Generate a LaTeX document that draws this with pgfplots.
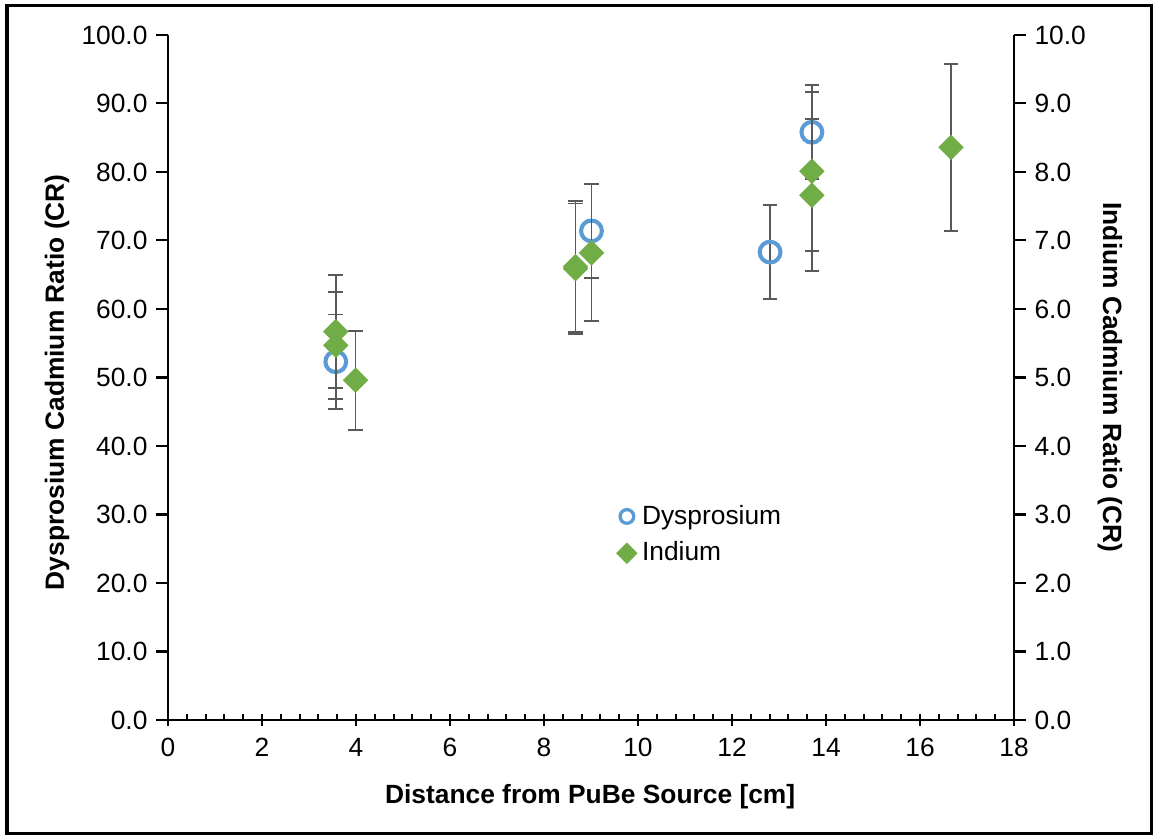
\documentclass[border=0pt]{standalone}
\usepackage{fontspec}
\setmainfont{Liberation Sans}
\usepackage{pgfplots}
\pgfplotsset{compat=1.18}
\definecolor{dyblue}{HTML}{5B9BD5}
\definecolor{ingreen}{HTML}{70AD47}
\definecolor{errgray}{HTML}{595959}

% x, ratio, error
\pgfplotstableread{
x y e
3.57 52.3 6.9
9.01 71.4 6.85
12.81 68.3 6.85
13.70 85.8 6.85
}\dydata
\pgfplotstableread{
x y e
3.57 5.67 0.82
3.57 5.47 0.78
3.99 4.96 0.72
8.67 6.62 0.95
8.67 6.59 0.95
9.01 6.82 1.00
13.70 8.01 1.16
13.70 7.66 1.11
16.66 8.36 1.22
}\indata

\pgfplotsset{
  chart/.style={
    scale only axis, width=11.73cm, height=9.498cm,
    at={(2.329cm,1.608cm)}, anchor=south west,
    xmin=0, xmax=18,
    font=\fontsize{10.4}{12.5}\selectfont,
    /pgf/number format/assume math mode=true,
    axis line style={line width=0.8pt},
    tick style={line width=0.8pt, black},
    tick align=center,
    major tick length=0.16cm,
    y tick label style={/pgf/number format/fixed, /pgf/number format/fixed zerofill, /pgf/number format/precision=1},
  },
  errs/.style={
    error bars/y dir=both, error bars/y explicit,
    error bars/error mark=-,
    error bars/error bar style={line width=0.75pt, errgray},
    error bars/error mark options={rotate=90, mark size=2.9pt, line width=0.75pt, errgray},
  },
}

\begin{document}
\begin{tikzpicture}
\useasboundingbox (0,0) rectangle (16cm,11.591cm);
\draw[line width=1.2pt] (0.097cm,0.03cm) rectangle (15.97cm,11.508cm);

\begin{axis}[chart,
  ymin=0, ymax=100,
  axis x line*=bottom, axis y line*=left,
  xtick={0,2,...,18}, minor x tick num=4,
  minor tick length=0.08cm,
  minor x tick style={yshift=0.04cm},
  major y tick style={xshift=-0.08cm},
  ytick={0,10,...,100},
  xticklabel style={yshift=-0.05cm},
  yticklabel style={xshift=-0.08cm},
  xlabel={\bfseries Distance from PuBe Source [cm]},
  xlabel style={at={(axis description cs:0.499,-0.112)}, anchor=center},
  ylabel={\bfseries Dysprosium Cadmium Ratio (CR)},
  ylabel style={at={(axis description cs:-0.131,0.493)}, anchor=center, rotate=0},
  legend style={at={(axis description cs:0.53,0.322)}, anchor=north west,
    draw=none, fill=none, inner sep=0pt, row sep=1.5pt,
    font=\fontsize{10.4}{12.5}\selectfont},
  legend cell align=left,
  legend image code/.code={\draw[#1] plot coordinates {(0.1cm,0cm)};},
]
\addplot[only marks, mark=o, mark size=4.1pt, line width=1.6pt, draw=dyblue, errs, forget plot]
  table[x=x, y=y, y error=e] {\dydata};
\addlegendimage{only marks, mark=o, mark size=2.7pt, line width=1.3pt, draw=dyblue}
\addlegendentry{Dysprosium}
\addlegendimage{only marks, mark=square*, mark options={rotate=45}, mark size=2.8pt, draw=ingreen, fill=ingreen}
\addlegendentry{Indium}
\end{axis}

\begin{axis}[chart,
  ymin=0, ymax=10,
  axis x line=none, axis y line*=right,
  ytick={0,1,...,10},
  major y tick style={xshift=0.08cm},
  yticklabel style={xshift=0.08cm},
  ylabel={\bfseries Indium Cadmium Ratio (CR)},
  ylabel style={at={(axis description cs:1.1135,0.5)}, anchor=center, rotate=180},
]
\addplot[only marks, mark=square*, mark options={rotate=45}, mark size=3.35pt, draw=ingreen, fill=ingreen, errs]
  table[x=x, y=y, y error=e] {\indata};
\end{axis}
\end{tikzpicture}
\end{document}
